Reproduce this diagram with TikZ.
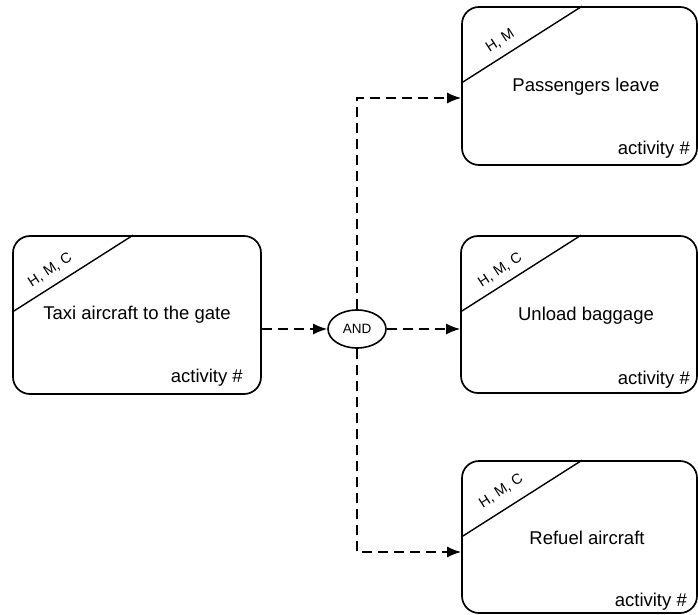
\documentclass[tikz,border=0pt]{standalone}
\usepackage{fontspec}
\setmainfont{Liberation Sans}
\usetikzlibrary{arrows.meta,calc,shapes.geometric}

\tikzset{
  actbox/.style={draw, line width=1.7pt, rounded corners=17pt, inner sep=0pt},
  diag/.style={line width=1.4pt},
  title/.style={font=\fontsize{18.5}{20}\selectfont, inner sep=0pt},
  actno/.style={font=\fontsize{18.5}{20}\selectfont, inner sep=0pt, anchor=east},
  roles/.style={font=\fontsize{14.5}{16}\selectfont, inner sep=0pt, rotate=33},
  gate/.style={draw, ellipse, line width=1.6pt, minimum width=58pt, minimum height=38pt,
               inner sep=0pt, font=\fontsize{13.5}{15}\selectfont},
  flow/.style={line width=1.6pt, dash pattern=on 10pt off 6pt,
               -{Latex[length=14pt,width=11pt]}}
}

\begin{document}
\begin{tikzpicture}[x=1pt,y=-1pt]
\useasboundingbox (0,0) rectangle (698,615);

% activity boxes
\node[actbox, minimum width=248pt, minimum height=158pt] (A) at (137,315) {};
\node[actbox, minimum width=235pt, minimum height=158pt] (P) at (579.5,86) {};
\node[actbox, minimum width=236pt, minimum height=157pt] (U) at (579,314.5) {};
\node[actbox, minimum width=235pt, minimum height=152pt] (R) at (579.5,537) {};

% role corner separators
\foreach \b in {A,P,U,R}{
  \draw[diag] ($(\b.north west)+(0,77)$) -- ($(\b.north west)+(121,0)$);
}

% role labels
\node[roles] (Ar) at ($(A.north west)+(38,35)$) {H, M, C};
\node[roles] (Pr) at ($(P.north west)+(39,35)$) {H, M};
\node[roles] (Ur) at ($(U.north west)+(40,35)$) {H, M, C};
\node[roles] (Rr) at ($(R.north west)+(40,31)$) {H, M, C};

% activity titles
\node[title] (At) at (137,315) {Taxi aircraft to the gate};
\node[title] (Pt) at (586,87) {Passengers leave};
\node[title] (Ut) at (586,316) {Unload baggage};
\node[title] (Rt) at (587,538) {Refuel aircraft};

% activity numbers
\node[actno] (An) at (243,378) {activity \#};
\node[actno] (Pn) at (690,150) {activity \#};
\node[actno] (Un) at (690,380) {activity \#};
\node[actno] (Rn) at (687,602) {activity \#};

% AND junction
\node[gate] (and) at (357,329) {AND};

% connectors
\draw[flow] (A.east |- and.west) -- (and.west);
\draw[flow] (and.east) -- (U.west |- and.east);
\draw[flow] (and.north) |- ([yshift=-12pt]P.west);
\draw[flow] (and.south) |- ([yshift=-15pt]R.west);
\end{tikzpicture}
\end{document}
